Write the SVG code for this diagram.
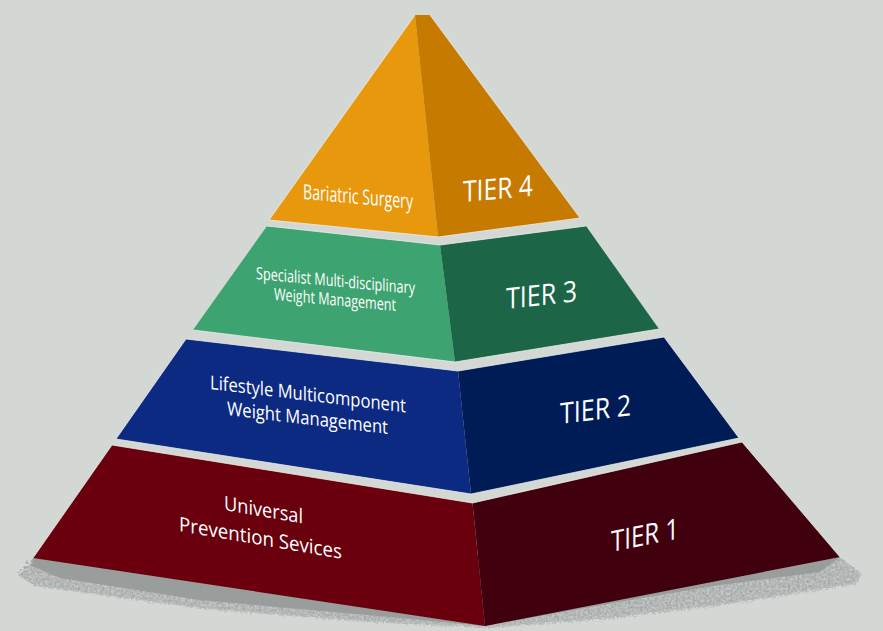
<svg xmlns="http://www.w3.org/2000/svg" width="883" height="631" viewBox="0 0 883 631">
<style>
text{font-family:"Open Sans","Liberation Sans",sans-serif;fill:#fff;font-weight:500;}
.edge{fill:none;stroke:#eef0ec;stroke-width:1;stroke-opacity:.75;stroke-linejoin:round;}
.soft{filter:url(#soft);}
</style>
<defs>
<filter id="soft" x="-5%" y="-5%" width="110%" height="110%"><feGaussianBlur stdDeviation="0.4"/></filter>
<filter id="speck" x="-5%" y="-20%" width="110%" height="140%">
<feTurbulence type="fractalNoise" baseFrequency="0.42" numOctaves="3" seed="7" result="n"/>
<feDisplacementMap in="SourceGraphic" in2="n" scale="8" result="d"/>
<feColorMatrix in="n" type="matrix" values="0 0 0 0 0 0 0 0 0 0 0 0 0 0 0 0 0 0 0 0 16 0 0 0 -7" result="m"/>
<feComposite in="d" in2="m" operator="in"/>
<feGaussianBlur stdDeviation="0.4"/>
</filter>
</defs>
<rect width="883" height="631" fill="#d3d8d4"/>
<g id="shadow">
<path d="M33 558L18 575L34 586L203 609L366 622L485 628L608 619L732 604L856 584L862 574L840 557Z" fill="#94989a" filter="url(#speck)"/>
<path d="M33 558L32 566L60 578L200 600L400 618L485 626L590 607L720 585L820 572L840 557Z" fill="#989c9b" class="soft" opacity=".95"/>
</g>
<g id="tier-1">
<g class="soft"><path d="M112 445L472.5 503L485 626L33 558Z" fill="#6a0010"/>
<path d="M472.5 503L742 442L840 557L485 626Z" fill="#3f0010"/>
<path class="edge" d="M33 558L112 445L472.5 503L742 442L840 557"/></g>
<text transform="matrix(1 .17 0 1 224 510)" font-size="20" textLength="79" lengthAdjust="spacingAndGlyphs">Universal</text>
<text transform="matrix(1 .17 0 1 179 531)" font-size="20" textLength="163" lengthAdjust="spacingAndGlyphs">Prevention Sevices</text>
<text transform="matrix(1 -.2 0 1 611 552)" font-size="29" textLength="68" lengthAdjust="spacingAndGlyphs">TIER 1</text>
</g>
<g id="tier-2">
<g class="soft"><path d="M186 339L458 371L471 494L116 439Z" fill="#0b2a82"/>
<path d="M458 371L664 337L739 438L471 494Z" fill="#021d57"/>
<path class="edge" d="M471 494L116 439L186 339L458 371L664 337L739 438L471 494"/></g>
<text transform="matrix(1 .12 0 1 210 389)" font-size="19" textLength="196" lengthAdjust="spacingAndGlyphs">Lifestyle Multicomponent</text>
<text transform="matrix(1 .118 0 1 227 415)" font-size="19" textLength="161" lengthAdjust="spacingAndGlyphs">Weight Management</text>
<text transform="matrix(1 -.125 0 1 560 424)" font-size="29" textLength="71" lengthAdjust="spacingAndGlyphs">TIER 2</text>
</g>
<g id="tier-3">
<g class="soft"><path d="M267 226L440 245L455 362L193 330Z" fill="#3ca370"/>
<path d="M440 245L586 226L659 329L455 362Z" fill="#1f6647"/>
<path class="edge" d="M267 226L440 245L586 226M193 330L455 362L659 329"/></g>
<text transform="matrix(1 .094 0 1 256 279)" font-size="17" textLength="159" lengthAdjust="spacingAndGlyphs">Specialist Multi-disciplinary</text>
<text transform="matrix(1 .09 0 1 274 300)" font-size="17" textLength="122" lengthAdjust="spacingAndGlyphs">Weight Management</text>
<text transform="matrix(1 -.11 0 1 506 309)" font-size="29" textLength="71" lengthAdjust="spacingAndGlyphs">TIER 3</text>
</g>
<g id="tier-4">
<g class="soft"><path d="M415 15L438 237L269 220Z" fill="#e8980a"/>
<path d="M415 15L430 15L580 218L438 237Z" fill="#c77a02"/>
<path class="edge" d="M415 15L269 220L438 237L580 218L430 15"/></g>
<text transform="matrix(1 .09 0 1 303 199)" font-size="21" textLength="110" lengthAdjust="spacingAndGlyphs">Bariatric Surgery</text>
<text transform="matrix(1 -.09 0 1 463 202)" font-size="29" textLength="70" lengthAdjust="spacingAndGlyphs">TIER 4</text>
</g>
</svg>
